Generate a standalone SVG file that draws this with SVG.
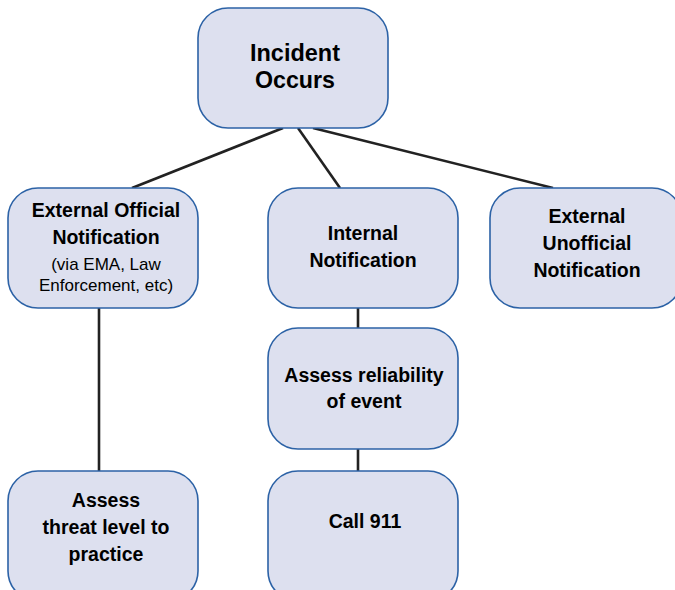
<svg xmlns="http://www.w3.org/2000/svg" width="675" height="590" viewBox="0 0 675 590">
  <style>
    .box { fill: #dde0ef; stroke: #2c62a6; stroke-width: 1.6; }
    .lbl { font-family: "Liberation Sans", Arial, sans-serif; font-weight: bold; font-size: 19.5px; fill: #000; text-anchor: middle; }
    .sub { font-family: "Liberation Sans", Arial, sans-serif; font-size: 17px; fill: #000; text-anchor: middle; }
    .title { font-family: "Liberation Sans", Arial, sans-serif; font-weight: bold; font-size: 24px; fill: #000; text-anchor: middle; }
    .conn line { stroke: #222; stroke-width: 2.6; }
  </style>
  <rect width="675" height="590" fill="#fff"/>

  <g id="connectors" class="conn">
    <line x1="283" y1="128" x2="132" y2="188"/>
    <line x1="298" y1="128" x2="340" y2="188"/>
    <line x1="313" y1="128" x2="553" y2="188"/>
    <line x1="99" y1="308" x2="99" y2="471"/>
    <line x1="358" y1="308" x2="358" y2="328"/>
    <line x1="358" y1="449" x2="358" y2="471"/>
  </g>

  <g id="incident">
    <rect class="box" x="198" y="8" width="190" height="120" rx="30"/>
    <text class="title" x="295" y="61" textLength="90" lengthAdjust="spacingAndGlyphs">Incident</text>
    <text class="title" x="295" y="88" textLength="80" lengthAdjust="spacingAndGlyphs">Occurs</text>
  </g>

  <g id="external-official">
    <rect class="box" x="8" y="188" width="190" height="120" rx="30"/>
    <text class="lbl" x="106" y="217">External Official</text>
    <text class="lbl" x="106" y="244">Notification</text>
    <text class="sub" x="106" y="270">(via EMA, Law</text>
    <text class="sub" x="106" y="291">Enforcement, etc)</text>
  </g>

  <g id="internal">
    <rect class="box" x="268" y="188" width="190" height="120" rx="30"/>
    <text class="lbl" x="363" y="240">Internal</text>
    <text class="lbl" x="363" y="267">Notification</text>
  </g>

  <g id="external-unofficial">
    <rect class="box" x="490" y="188" width="192" height="120" rx="30"/>
    <text class="lbl" x="587" y="223">External</text>
    <text class="lbl" x="587" y="250">Unofficial</text>
    <text class="lbl" x="587" y="277">Notification</text>
  </g>

  <g id="assess-reliability">
    <rect class="box" x="268" y="328" width="190" height="121" rx="30"/>
    <text class="lbl" x="364" y="382">Assess reliability</text>
    <text class="lbl" x="364" y="408">of event</text>
  </g>

  <g id="assess-threat">
    <rect class="box" x="8" y="471" width="190" height="130" rx="30"/>
    <text class="lbl" x="106" y="507">Assess</text>
    <text class="lbl" x="106" y="534">threat level to</text>
    <text class="lbl" x="106" y="561">practice</text>
  </g>

  <g id="call-911">
    <rect class="box" x="268" y="471" width="190" height="130" rx="30"/>
    <text class="lbl" x="365" y="528">Call 911</text>
  </g>
</svg>
